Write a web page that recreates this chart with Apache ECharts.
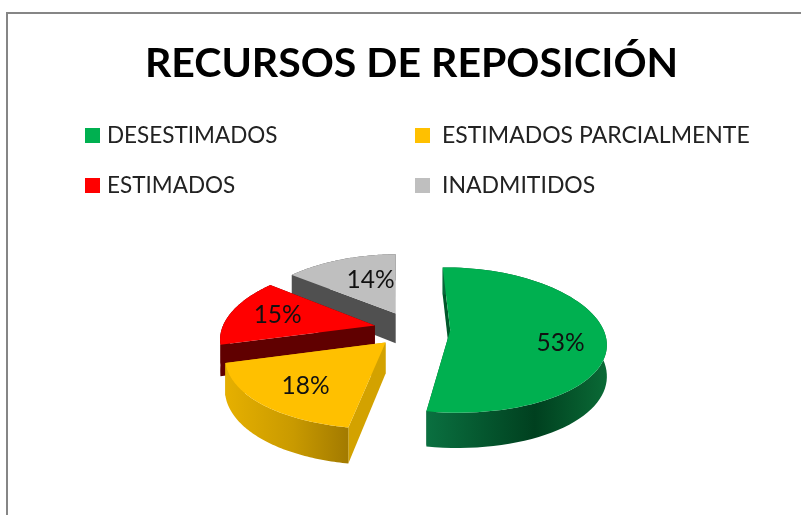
<!DOCTYPE html>
<html><head><meta charset="utf-8">
<style>html,body{margin:0;padding:0;background:#fff}#c{width:801px;height:515px}</style>
<script src="https://cdn.jsdelivr.net/npm/echarts@6/dist/echarts.min.js"></script>
</head><body><div id="c"></div>
<script>
const titleText = 'RECURSOS DE REPOSICIÓN';
const categories = ['DESESTIMADOS', 'ESTIMADOS PARCIALMENTE', 'ESTIMADOS', 'INADMITIDOS'];
const shares = [53, 18, 15, 14];

const topColors = ['#00B050', '#FFC000', '#FF0000', '#BFBFBF'];
const cutColors = ['#00572a', '#d3a200', '#600000', '#505050'];
const wallStops = [
  [[0, '#0a7040'], [0.6, '#00401f'], [1, '#0a6a36']],
  [[0, '#e6b000'], [0.55, '#c99a00'], [1, '#a27a00']],
  [[0, '#600000'], [1, '#600000']],
  [[0, '#505050'], [1, '#505050']]
];
const labelNudge = [[5, 9], [1, 3], [1, -1], [14, 4]];

const view = {cx: 412, cy: 329, A: 153, B: 71, k: 0.133, kx: 0.16, depth: 30.5, explode: 0.25, start: -1, labelR: 0.68};
const total = shares.reduce((a, b) => a + b, 0);
const spans = [];
let run = view.start;
shares.forEach(v => { const sw = v / total * 360; spans.push([run, run + sw]); run += sw; });

function project(wx, wz, drop) {
  const s = 1 / (1 - view.k * wz), sx = 1 / (1 - view.kx * wz);
  return [view.cx + view.A * wx * sx, view.cy + view.B * wz * s + (drop ? view.depth * s : 0)];
}
function dir(deg) { const r = deg * Math.PI / 180; return [Math.sin(r), -Math.cos(r)]; }

function renderSlice(i) {
  return function () {
    const [a0, a1] = spans[i];
    const m = dir((a0 + a1) / 2);
    const ox = m[0] * view.explode, oz = m[1] * view.explode;
    const n = 72, rim = [];
    for (let j = 0; j <= n; j++) {
      const d = dir(a0 + (a1 - a0) * j / n);
      rim.push([ox + d[0], oz + d[1]]);
    }
    const top = rim.map(p => project(p[0], p[1], false));
    const bot = rim.map(p => project(p[0], p[1], true));
    const apexT = project(ox, oz, false), apexB = project(ox, oz, true);
    const poly = (points, fill) => ({type: 'polygon', shape: {points}, style: {fill, stroke: null}});
    const wallFill = {type: 'linear', x: 0, y: 0, x2: 1, y2: 0,
      colorStops: wallStops[i].map(s => ({offset: s[0], color: s[1]}))};
    const lp = project(ox + m[0] * view.labelR, oz + m[1] * view.labelR, false);
    return {
      type: 'group',
      children: [
        poly([apexT, top[0], bot[0], apexB], cutColors[i]),
        poly([apexT, top[n], bot[n], apexB], cutColors[i]),
        poly(top.concat(bot.slice().reverse()), wallFill),
        poly([apexT].concat(top), topColors[i]),
        {type: 'text', style: {
          x: lp[0] + labelNudge[i][0], y: lp[1] + labelNudge[i][1],
          text: shares[i] + '%', fill: '#111', align: 'center', verticalAlign: 'middle',
          font: '24.5px Lato, "Open Sans", sans-serif'}}
      ]
    };
  };
}

const drawOrder = [3, 2, 1, 0];
const legendText = {fontFamily: 'Lato, "Open Sans", sans-serif', fontSize: 23, color: '#222', padding: [0, 0, 0, 2]};
const chart = echarts.init(document.getElementById('c'), null, {renderer: 'canvas'});
chart.setOption({
  animation: false,
  backgroundColor: '#fff',
  title: {text: titleText, left: 140, top: 38,
    textStyle: {fontFamily: 'Lato, sans-serif', fontWeight: 'bold', fontSize: 41, color: '#000'}},
  legend: [
    {data: [categories[0], categories[2]], orient: 'vertical', left: 85, top: 124, itemWidth: 15, itemHeight: 15,
     itemGap: 27, icon: 'rect', selectedMode: false, textStyle: Object.assign({}, legendText, {fontSize: 22.5}), padding: 0},
    {data: [categories[1], categories[3]], orient: 'vertical', left: 415, top: 124, itemWidth: 15, itemHeight: 15,
     itemGap: 27, icon: 'rect', selectedMode: false, textStyle: Object.assign({}, legendText, {padding: [0, 0, 0, 7]}), padding: 0}
  ],
  graphic: [{type: 'polyline', silent: true, shape: {points: [[7, 515], [7, 13], [801, 13]]},
    style: {stroke: '#868686', lineWidth: 2, fill: null}}],
  series: drawOrder.map(i => ({
    type: 'custom', name: categories[i], coordinateSystem: 'none',
    itemStyle: {color: topColors[i]}, silent: true,
    data: [[shares[i]]], renderItem: renderSlice(i)
  }))
});
</script></body></html>
